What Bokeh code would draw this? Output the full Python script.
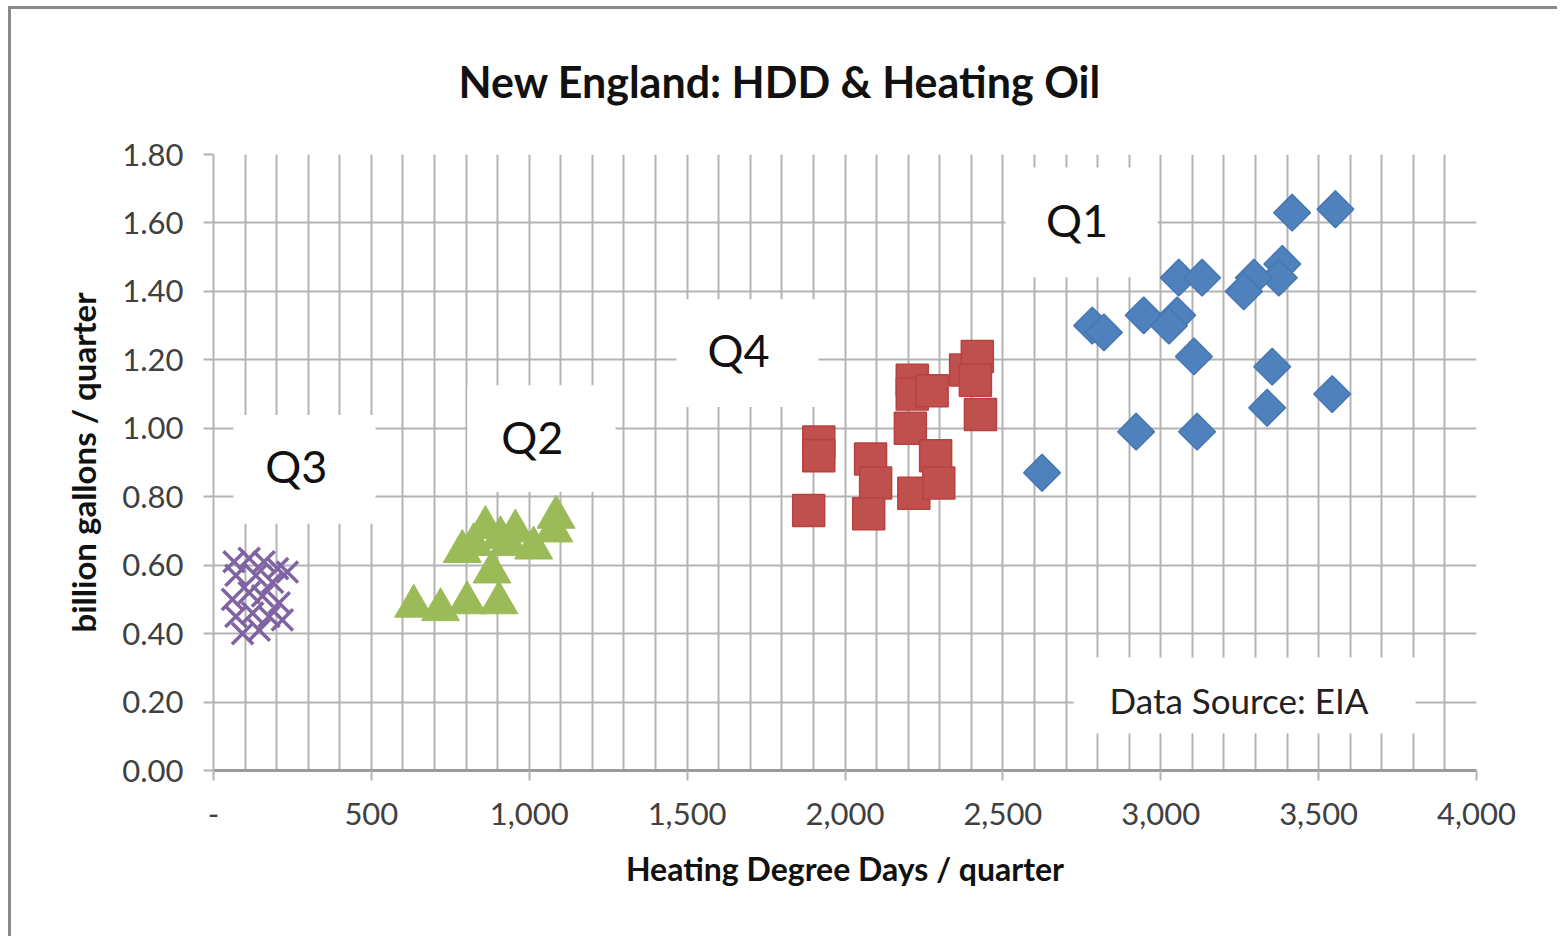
import numpy as np
from bokeh.plotting import figure
from bokeh.models import (Range1d, FixedTicker, NumeralTickFormatter, PrintfTickFormatter,
                          BoxAnnotation, Label)
from bokeh.embed import file_html
from bokeh.resources import INLINE

# ---------------- data ----------------
q1_hdd = [3416, 3553, 3385, 3374, 3295, 3263, 3057, 3131, 2946, 3052,
          3026, 2783, 2820, 3105, 3353, 3337, 3543, 2922, 3115, 2624]
q1_oil = [1.63, 1.64, 1.48, 1.44, 1.44, 1.40, 1.44, 1.44, 1.33, 1.33,
          1.30, 1.30, 1.28, 1.21, 1.18, 1.06, 1.10, 0.99, 0.99, 0.87]

q2_hdd = [634, 719, 803, 904, 882, 861, 788, 824, 909, 956, 1014, 1085, 1078, 935]
q2_oil = [0.48, 0.47, 0.49, 0.49, 0.58, 0.71, 0.64, 0.66, 0.68, 0.70, 0.65, 0.74, 0.70, 0.66]

q3_hdd = [65, 113, 160, 203, 234, 71, 134, 187, 60, 113, 155, 208, 71, 124, 176, 218, 92, 145]
q3_oil = [0.61, 0.62, 0.61, 0.59, 0.58, 0.57, 0.57, 0.55, 0.50, 0.52, 0.51, 0.49,
          0.45, 0.46, 0.45, 0.44, 0.40, 0.41]

q4_hdd = [1885, 1917, 1917, 2081, 2097, 2075, 2213, 2213, 2207, 2276, 2218, 2287, 2297,
          2382, 2419, 2413, 2429]
q4_oil = [0.76, 0.96, 0.92, 0.91, 0.84, 0.75, 1.14, 1.10, 1.00, 1.11, 0.81, 0.92, 0.84,
          1.17, 1.21, 1.14, 1.04]

x_ticks = [0, 500, 1000, 1500, 2000, 2500, 3000, 3500, 4000]
x_minor = list(range(0, 4001, 100))
y_ticks = [0.0, 0.2, 0.4, 0.6, 0.8, 1.0, 1.2, 1.4, 1.6, 1.8]

title_text = "New England:  HDD & Heating Oil"
x_title = "Heating Degree Days / quarter"
y_title = "billion gallons / quarter"
quarter_labels = ["Q1", "Q2", "Q3", "Q4"]
source_text = "Data Source:  EIA"

# ---------------- layout / style ----------------
FONT = "Lato"
GRID = "#b3b3b3"
BLUE, GREEN, PURPLE, RED = "#4F81BD", "#9BBB59", "#8064A2", "#C0504D"

# label boxes (data units): left, right, bottom, top, text x, text y
label_boxes = {
    "Q1": (2508, 2990, 1.441, 1.762, 2735, 1.610),
    "Q2": (804, 1273, 0.814, 1.126, 1010, 0.975),
    "Q3": (63, 513, 0.721, 1.039, 262, 0.890),
    "Q4": (1466, 1916, 1.062, 1.377, 1663, 1.228),
}
source_box = (2724, 3807, 0.108, 0.330, 3262, 0.207)

W, H = 1549, 930
p = figure(width=W, height=H, output_backend="svg", toolbar_location=None,
           x_range=Range1d(0, 4000), y_range=Range1d(0, 1.8),
           min_border_left=202, min_border_right=84, min_border_top=143,
           min_border_bottom=169)
p.styles = {"border-top": "3px solid #8a8a8a", "border-left": "3px solid #8a8a8a",
            "margin-left": "8px", "margin-top": "6px"}
p.outline_line_color = None
p.background_fill_color = "white"
p.border_fill_color = "white"

# title
p.title.text = title_text
p.title.align = "left"
p.title.offset = 245
p.title.vertical_align = "top"
p.title.text_font = FONT
p.title.text_font_style = "bold"
p.title.text_font_size = "43px"
p.title.text_color = "#111111"
p.title.standoff = 92

# axes
p.xaxis.ticker = FixedTicker(ticks=x_ticks, minor_ticks=x_minor)
p.xaxis.formatter = NumeralTickFormatter(format="0,0")
p.xaxis.major_label_overrides = {0: "-"}
p.yaxis.ticker = FixedTicker(ticks=y_ticks)
p.yaxis.formatter = PrintfTickFormatter(format="%.2f")

for ax in (p.xaxis, p.yaxis):
    ax.major_label_text_font = FONT
    ax.major_label_text_font_size = "31px"
    ax.major_label_text_color = "#404040"
    ax.axis_label_text_font = FONT
    ax.axis_label_text_font_style = "bold"
    ax.axis_label_text_color = "#111111"
    ax.major_tick_in = 0
    ax.major_tick_out = 10
    ax.minor_tick_in = 0
    ax.minor_tick_out = 0
    ax.major_tick_line_color = GRID
    ax.major_tick_line_width = 2

p.xaxis.axis_label = x_title
p.yaxis.axis_label = y_title
p.xaxis.axis_label_text_font_size = "32px"
p.yaxis.axis_label_text_font_size = "33px"
p.xaxis.axis_line_color = "#9a9a9a"
p.xaxis.axis_line_width = 3
p.yaxis.axis_line_color = GRID
p.yaxis.axis_line_width = 2
p.xaxis.major_label_standoff = 22
p.yaxis.major_label_standoff = 20
p.xaxis.axis_label_standoff = 21
p.yaxis.axis_label_standoff = 16

p.xgrid.ticker = FixedTicker(ticks=x_minor)
p.xgrid.grid_line_color = GRID
p.xgrid.grid_line_width = 2
p.ygrid.ticker = FixedTicker(ticks=y_ticks)
p.ygrid.grid_line_color = GRID
p.ygrid.grid_line_width = 2

# white label boxes over the grid
for key, (l, r, b, t, tx, ty) in label_boxes.items():
    p.add_layout(BoxAnnotation(left=l, right=r, bottom=b, top=t, fill_color="white",
                               fill_alpha=1.0, line_color=None, level="underlay"))
l, r, b, t, tx, ty = source_box
p.add_layout(BoxAnnotation(left=l, right=r, bottom=b, top=t, fill_color="white",
                           fill_alpha=1.0, line_color=None, level="underlay"))

# markers
p.scatter(q3_hdd, q3_oil, marker="x", size=30, line_color=PURPLE, line_width=3.5)
p.scatter(q2_hdd, q2_oil, marker="triangle", size=38, fill_color=GREEN,
          line_color=GREEN, line_width=1)
p.scatter(q4_hdd, q4_oil, marker="square", size=32, fill_color=RED,
          line_color="#b8423f", line_width=1.5)
p.scatter(q1_hdd, q1_oil, marker="square", angle=np.pi / 4, size=26, fill_color=BLUE,
          line_color="#4677b2", line_width=1.5)

# texts
for key in quarter_labels:
    l, r, b, t, tx, ty = label_boxes[key]
    p.add_layout(Label(x=tx, y=ty, text=key, text_font=FONT, text_font_size="45px",
                       text_align="center", text_baseline="middle", text_color="#111111"))
l, r, b, t, tx, ty = source_box
p.add_layout(Label(x=tx, y=ty, text=source_text, text_font=FONT, text_font_size="35px",
                   text_align="center", text_baseline="middle", text_color="#222222"))

open("out.html", "w").write(file_html(p, INLINE))
